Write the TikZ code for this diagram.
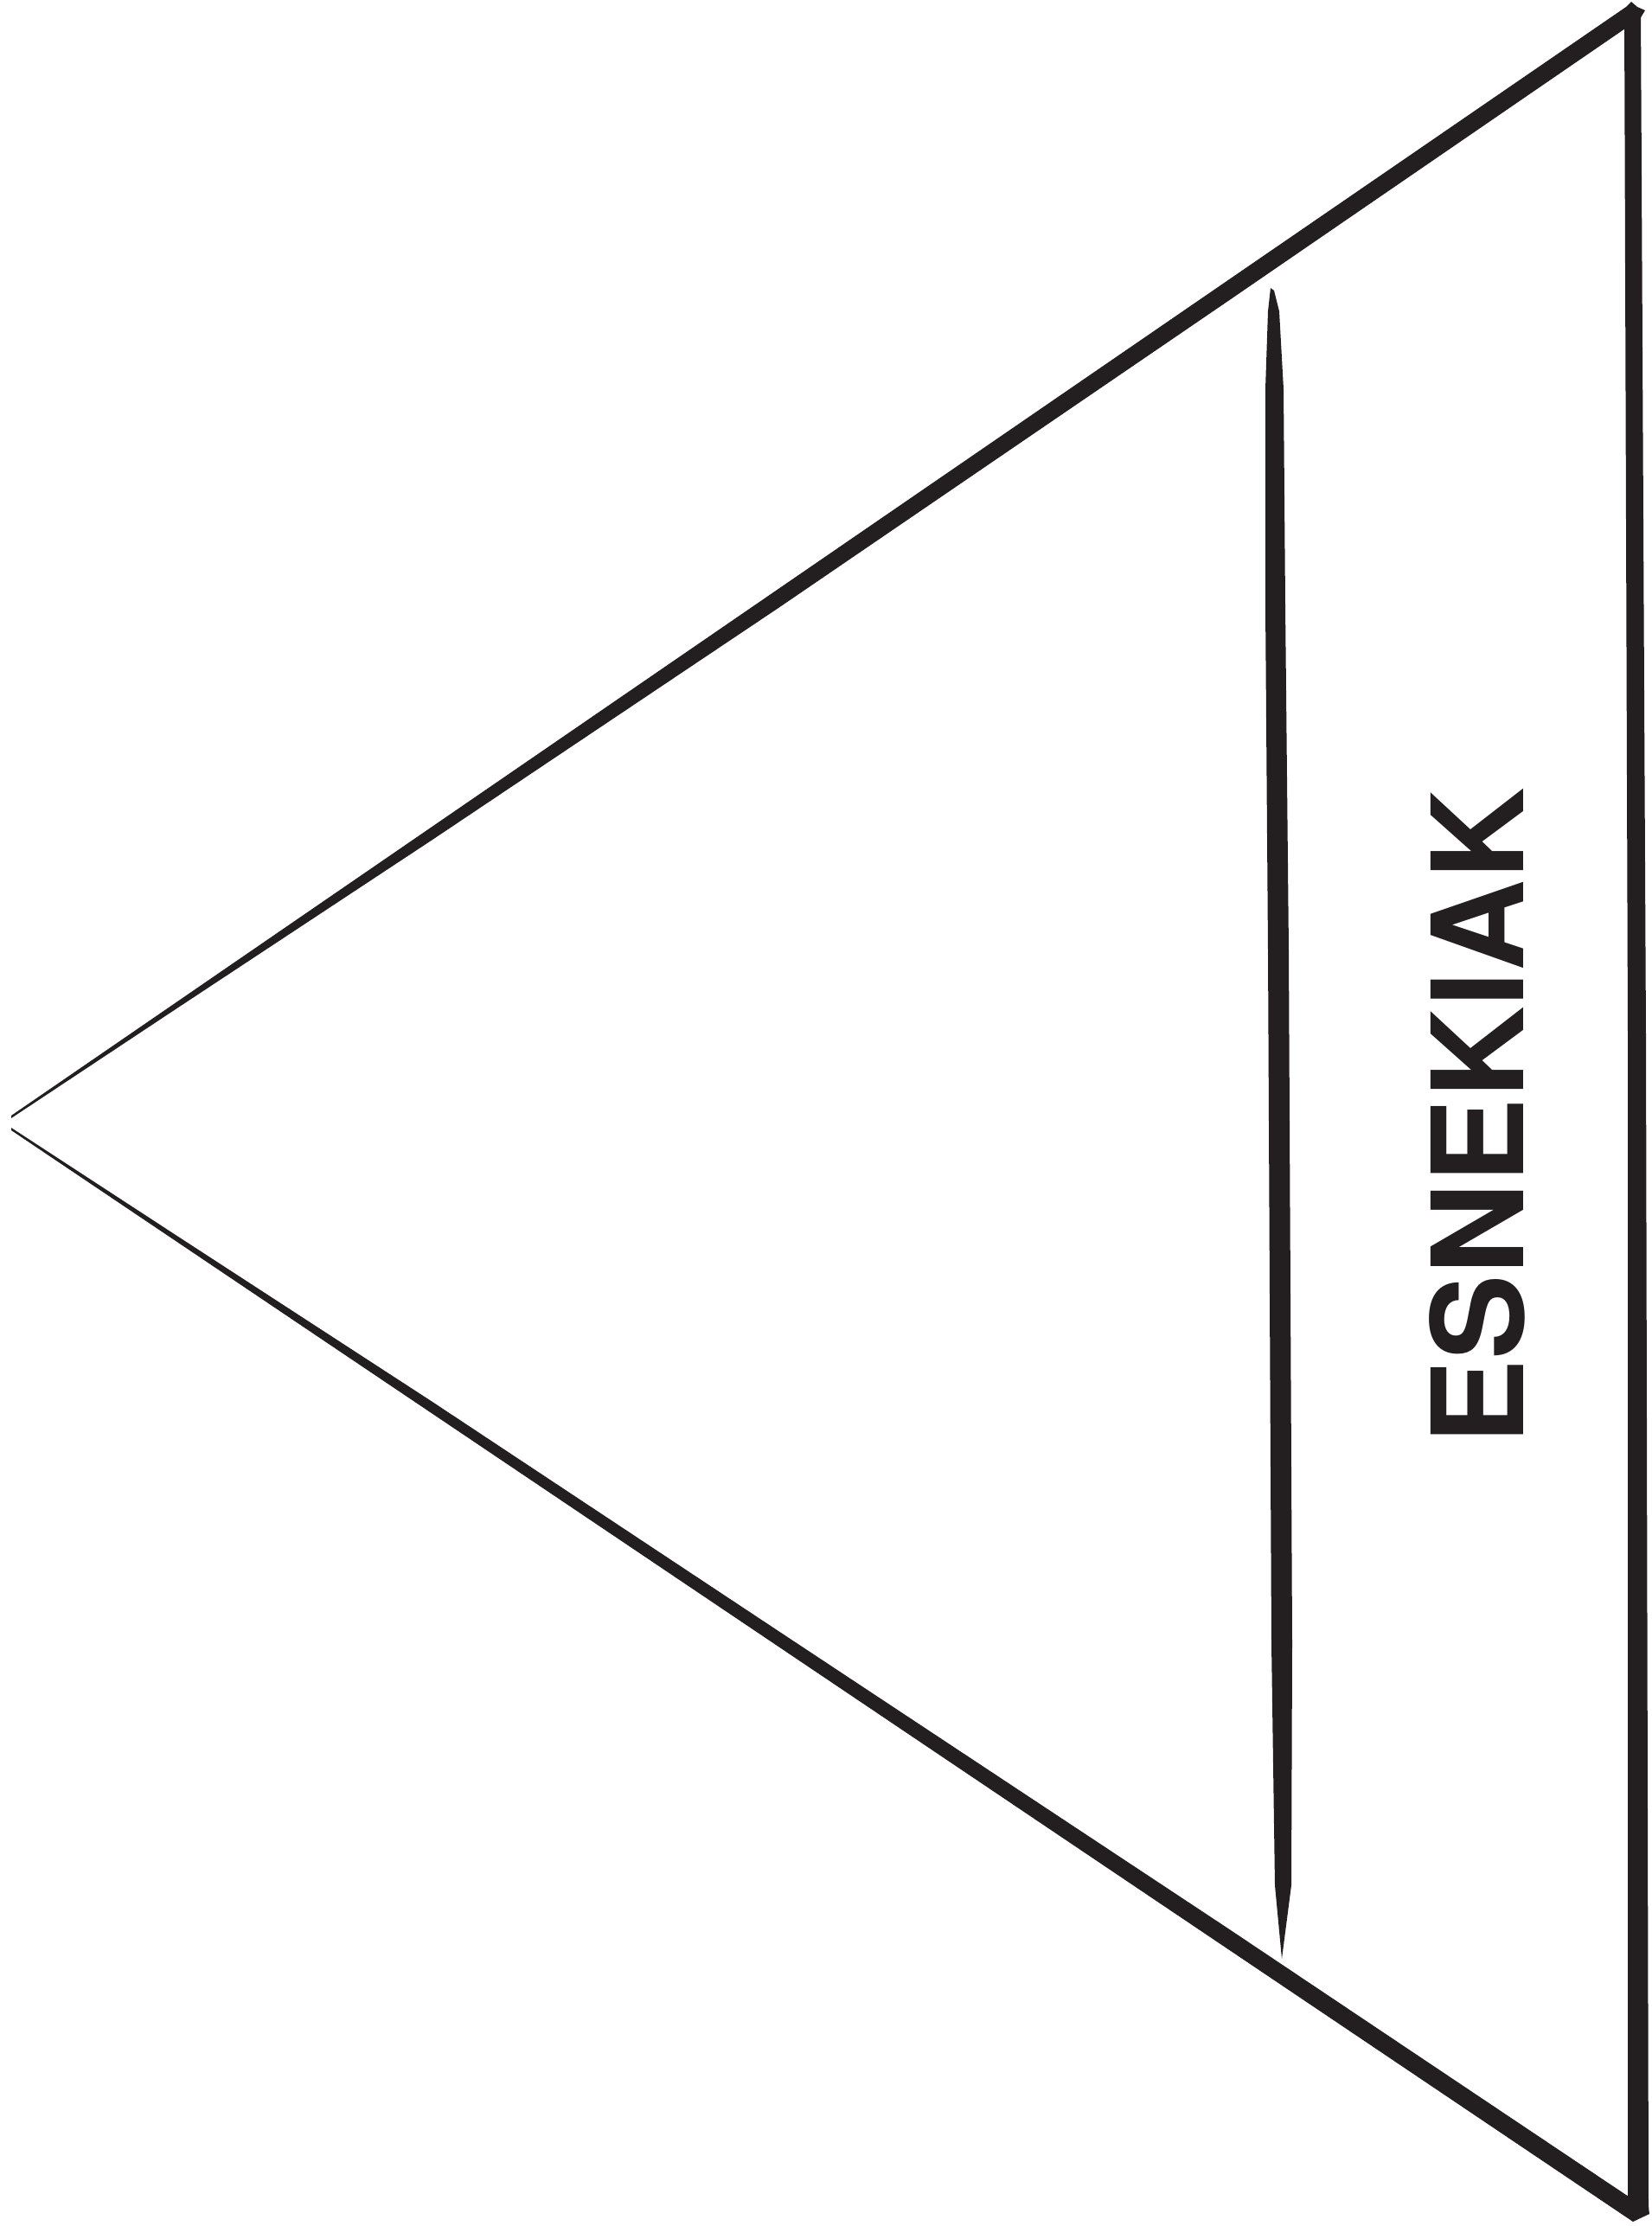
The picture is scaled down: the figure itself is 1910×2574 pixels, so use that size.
\documentclass[tikz,border=0pt]{standalone}
\usepackage{fontspec}
\setmainfont{TeX Gyre Heros}
\definecolor{inkc}{HTML}{231F20}
\tikzset{
  ink/.style={fill=inkc, draw=none},
  label/.style={font=\fontsize{147}{147}\bfseries\selectfont, text=inkc, inner sep=0pt, rotate=90, anchor=center}
}
\begin{document}
\begin{tikzpicture}[x=1pt,y=-1pt]
\useasboundingbox (0,0) rectangle (1910,2574);
% top edge (tapered)
\fill[ink] (13,1290) -- (1880,8) -- (1886,2) -- (1893,8) -- (1902,12) -- (1896,22) -- (1879,33) -- (1420,348) -- (900,703) -- (500,971) -- (200,1169) -- (13,1293) -- cycle;
% bottom edge (tapered)
\fill[ink] (13,1304) -- (200,1426) -- (500,1621) -- (900,1886) -- (1420,2230) -- (1880,2538) -- (1906,2552) -- (1907,2560) -- (1888,2569) -- (13,1307) -- cycle;
% right vertical edge
\fill[ink] (1878,16) -- (1897,10) -- (1903,1200) -- (1906,2555) -- (1882,2545) -- (1882,1200) -- cycle;
% inner vertical line
\fill[ink] (1469,333) -- (1473,336) -- (1479,360) -- (1484,450) -- (1486,700) -- (1490,1100) -- (1492,1500) -- (1494,1900) -- (1493,2180) -- (1482,2265) -- (1474,2180) -- (1470,1900) -- (1468,1500) -- (1466,1100) -- (1463,700) -- (1463,450) -- (1466,360) -- cycle;
\node[label] (txt) at (1708,1291) {ESNEKIAK};
\end{tikzpicture}
\end{document}
